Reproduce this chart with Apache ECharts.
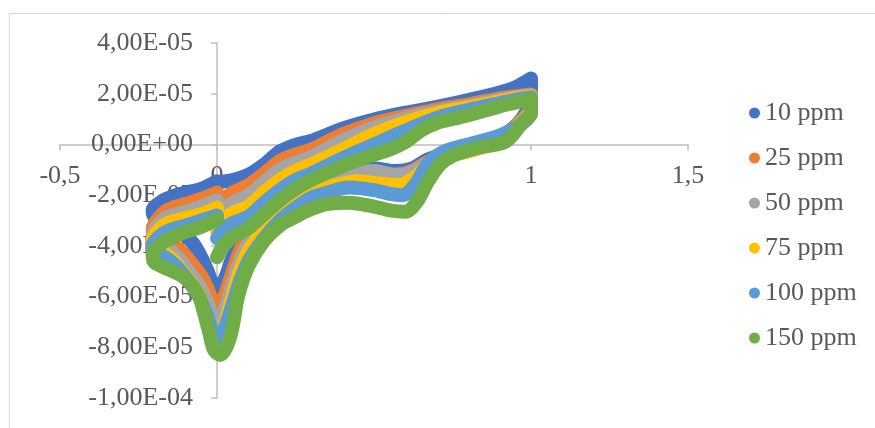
<!DOCTYPE html>
<html>
<head>
<meta charset="utf-8">
<script src="https://cdn.jsdelivr.net/npm/echarts@6/dist/echarts.min.js"></script>
<style>
  html, body { margin: 0; padding: 0; background: #fff; }
  #chart { width: 875px; height: 428px; }
</style>
</head>
<body>
<div id="chart"></div>
<script>
// Cyclic voltammograms: potential (V) vs current (A), one loop per concentration.
const seriesNames = ['10 ppm', '25 ppm', '50 ppm', '75 ppm', '100 ppm', '150 ppm'];
const seriesColors = ['#4472C4', '#ED7D31', '#A5A5A5', '#FFC000', '#5B9BD5', '#70AD47'];
const xTicks = [-0.5, 0, 0.5, 1, 1.5];
const yTicks = [-1e-4, -8e-5, -6e-5, -4e-5, -2e-5, 0, 2e-5, 4e-5];

const cv10 = [
  [0,-1.5e-5],[0.05,-1.4e-5],[0.1,-1.2e-5],[0.15,-0.8e-5],[0.2,-0.28e-5],[0.25,-0.02e-5],[0.3,0.14e-5],
  [0.4,0.62e-5],[0.5,0.98e-5],[0.6,1.25e-5],[0.7,1.48e-5],[0.8,1.75e-5],[0.9,2.05e-5],[0.95,2.25e-5],[1.0,2.6e-5],
  [1.0,1.9e-5],[0.97,1.0e-5],[0.91,0.35e-5],[0.82,-0.15e-5],[0.73,-0.35e-5],[0.67,-0.6e-5],[0.62,-0.95e-5],
  [0.57,-1.05e-5],[0.5,-0.95e-5],[0.42,-1.0e-5],[0.35,-1.2e-5],[0.3,-1.45e-5],[0.25,-1.8e-5],[0.2,-2.2e-5],
  [0.15,-2.7e-5],[0.1,-3.25e-5],[0.07,-3.9e-5],[0.045,-4.6e-5],[0.025,-5.3e-5],[0.005,-5.65e-5],
  [-0.015,-5.45e-5],[-0.03,-5.0e-5],[-0.05,-4.45e-5],[-0.076,-3.9e-5],[-0.11,-3.5e-5],[-0.15,-3.2e-5],[-0.2,-2.85e-5],
  [-0.205,-2.6e-5],[-0.17,-2.2e-5],[-0.13,-2.0e-5],[-0.1,-1.9e-5],[-0.05,-1.75e-5],[0,-1.45e-5]
];
const cv25 = [
  [0,-2.6e-5],[0.02,-2.2e-5],[0.05,-1.9e-5],[0.1,-1.6e-5],[0.15,-1.15e-5],[0.2,-0.65e-5],[0.25,-0.4e-5],[0.3,-0.2e-5],
  [0.4,0.4e-5],[0.5,0.83e-5],[0.6,1.12e-5],[0.7,1.38e-5],[0.8,1.58e-5],[0.9,1.82e-5],[0.95,1.9e-5],[1.0,1.97e-5],
  [1.0,1.5e-5],[0.97,0.95e-5],[0.91,0.3e-5],[0.82,-0.15e-5],[0.73,-0.4e-5],[0.67,-0.7e-5],[0.62,-1.05e-5],
  [0.57,-1.2e-5],[0.5,-1.1e-5],[0.42,-1.15e-5],[0.35,-1.4e-5],[0.3,-1.65e-5],[0.25,-2.0e-5],[0.2,-2.45e-5],
  [0.15,-3.0e-5],[0.1,-3.6e-5],[0.07,-4.3e-5],[0.045,-5.2e-5],[0.025,-5.95e-5],[0.005,-6.4e-5],
  [-0.015,-6.15e-5],[-0.03,-5.7e-5],[-0.05,-5.2e-5],[-0.08,-4.7e-5],[-0.115,-4.2e-5],[-0.15,-3.9e-5],[-0.2,-3.6e-5],
  [-0.205,-3.35e-5],[-0.17,-2.7e-5],[-0.13,-2.45e-5],[-0.1,-2.35e-5],[-0.05,-2.15e-5],[0,-1.9e-5]
];
const cv50 = [
  [0,-3.0e-5],[0.02,-2.6e-5],[0.05,-2.3e-5],[0.1,-2.0e-5],[0.15,-1.5e-5],[0.2,-1.0e-5],[0.25,-0.72e-5],[0.3,-0.5e-5],
  [0.4,0.15e-5],[0.5,0.66e-5],[0.6,1.02e-5],[0.7,1.3e-5],[0.8,1.52e-5],[0.9,1.76e-5],[0.95,1.86e-5],[1.0,1.93e-5],
  [1.0,1.4e-5],[0.97,0.9e-5],[0.91,0.25e-5],[0.82,-0.2e-5],[0.73,-0.45e-5],[0.67,-0.75e-5],[0.62,-1.1e-5],
  [0.57,-1.2e-5],[0.5,-1.05e-5],[0.42,-1.15e-5],[0.35,-1.45e-5],[0.3,-1.75e-5],[0.25,-2.15e-5],[0.2,-2.6e-5],
  [0.15,-3.2e-5],[0.1,-3.9e-5],[0.07,-4.7e-5],[0.045,-5.7e-5],[0.025,-6.5e-5],[0.005,-7.0e-5],
  [-0.015,-6.75e-5],[-0.03,-6.25e-5],[-0.055,-5.6e-5],[-0.09,-5.0e-5],[-0.125,-4.45e-5],[-0.16,-4.1e-5],[-0.2,-3.85e-5],
  [-0.205,-3.6e-5],[-0.17,-2.95e-5],[-0.13,-2.75e-5],[-0.1,-2.65e-5],[-0.05,-2.45e-5],[0,-2.2e-5]
];
const cv75 = [
  [0,-3.4e-5],[0.02,-3.0e-5],[0.05,-2.7e-5],[0.1,-2.45e-5],[0.15,-1.9e-5],[0.2,-1.4e-5],[0.25,-1.05e-5],[0.3,-0.8e-5],
  [0.4,-0.2e-5],[0.5,0.4e-5],[0.6,0.88e-5],[0.7,1.22e-5],[0.8,1.46e-5],[0.9,1.7e-5],[0.95,1.82e-5],[1.0,1.9e-5],
  [1.0,1.35e-5],[0.97,0.85e-5],[0.91,0.2e-5],[0.82,-0.2e-5],[0.73,-0.5e-5],[0.67,-0.85e-5],[0.63,-1.3e-5],
  [0.58,-1.6e-5],[0.52,-1.55e-5],[0.45,-1.45e-5],[0.38,-1.6e-5],[0.3,-1.95e-5],[0.25,-2.35e-5],[0.2,-2.8e-5],
  [0.15,-3.4e-5],[0.1,-4.2e-5],[0.07,-5.1e-5],[0.045,-6.2e-5],[0.025,-7.1e-5],[0.005,-7.7e-5],
  [-0.015,-7.4e-5],[-0.03,-6.8e-5],[-0.055,-6.0e-5],[-0.09,-5.35e-5],[-0.13,-4.7e-5],[-0.165,-4.3e-5],[-0.2,-4.05e-5],
  [-0.205,-3.8e-5],[-0.17,-3.2e-5],[-0.13,-3.0e-5],[-0.1,-2.9e-5],[-0.05,-2.75e-5],[0,-2.5e-5]
];
const cv100 = [
  [0,-3.7e-5],[0.02,-3.35e-5],[0.05,-3.1e-5],[0.1,-2.85e-5],[0.15,-2.3e-5],[0.2,-1.8e-5],[0.25,-1.4e-5],[0.3,-1.15e-5],
  [0.4,-0.55e-5],[0.5,0.0],[0.6,0.55e-5],[0.7,1.05e-5],[0.8,1.36e-5],[0.9,1.63e-5],[0.95,1.76e-5],[1.0,1.86e-5],
  [1.0,1.3e-5],[0.97,0.8e-5],[0.9,0.35e-5],[0.8,0.0],[0.72,-0.3e-5],[0.67,-0.8e-5],[0.63,-1.6e-5],
  [0.59,-2.0e-5],[0.55,-1.95e-5],[0.5,-1.8e-5],[0.42,-1.7e-5],[0.35,-1.9e-5],[0.3,-2.1e-5],[0.25,-2.5e-5],
  [0.2,-3.0e-5],[0.15,-3.7e-5],[0.1,-4.6e-5],[0.07,-5.5e-5],[0.045,-6.5e-5],[0.025,-7.2e-5],[0.005,-7.6e-5],
  [-0.015,-7.35e-5],[-0.03,-6.8e-5],[-0.055,-6.05e-5],[-0.09,-5.4e-5],[-0.13,-4.8e-5],[-0.165,-4.45e-5],[-0.2,-4.25e-5],
  [-0.205,-4.0e-5],[-0.17,-3.5e-5],[-0.13,-3.3e-5],[-0.1,-3.2e-5],[-0.05,-3.0e-5],[0,-2.8e-5]
];
const cv150 = [
  [0,-4.45e-5],[0.02,-4.0e-5],[0.05,-3.65e-5],[0.1,-3.3e-5],[0.15,-2.75e-5],[0.2,-2.2e-5],[0.25,-1.75e-5],[0.3,-1.4e-5],
  [0.4,-0.85e-5],[0.5,-0.4e-5],[0.55,-0.2e-5],[0.6,0.1e-5],[0.65,0.55e-5],[0.7,0.85e-5],[0.75,1.0e-5],[0.8,1.15e-5],
  [0.9,1.5e-5],[0.95,1.65e-5],[1.0,1.8e-5],
  [1.0,1.2e-5],[0.975,0.9e-5],[0.92,0.12e-5],[0.82,-0.16e-5],[0.75,-0.45e-5],[0.71,-0.8e-5],[0.67,-1.5e-5],[0.64,-2.2e-5],
  [0.6,-2.65e-5],[0.55,-2.6e-5],[0.5,-2.45e-5],[0.42,-2.3e-5],[0.35,-2.35e-5],[0.3,-2.55e-5],[0.25,-2.85e-5],
  [0.2,-3.2e-5],[0.15,-3.8e-5],[0.1,-4.8e-5],[0.067,-6.0e-5],[0.048,-7.3e-5],[0.03,-8.0e-5],[0.01,-8.3e-5],
  [-0.01,-8.1e-5],[-0.025,-7.4e-5],[-0.04,-6.7e-5],[-0.057,-6.0e-5],[-0.08,-5.55e-5],[-0.11,-5.2e-5],[-0.15,-4.95e-5],[-0.2,-4.65e-5],
  [-0.205,-4.35e-5],[-0.17,-3.85e-5],[-0.13,-3.6e-5],[-0.1,-3.45e-5],[-0.05,-3.25e-5],[0,-2.95e-5]
];
const loops = [cv10, cv25, cv50, cv75, cv100, cv150];

const FONT = '"Liberation Serif", "Times New Roman", serif';
const TEXT = '#595959';
const AXIS = '#BFBFBF';

// Plot box in pixels; the axes cross at (0, 0) inside it.
const GRID = { left: 60, top: 43, width: 628, height: 355 };
const X_ZERO_FROM_LEFT = GRID.width * (0 - xTicks[0]) / (xTicks[xTicks.length - 1] - xTicks[0]);
const Y_ZERO_FROM_BOTTOM = GRID.height * (0 - yTicks[0]) / (yTicks[yTicks.length - 1] - yTicks[0]);

function sciLabel(v) {
  const s = Number(v).toExponential(2);          // e.g. "4.00e-5"
  const m = s.match(/^(-?\d\.\d+)e([+-])(\d+)$/);
  if (!m) return s;
  const exp = m[3].length < 2 ? '0' + m[3] : m[3];
  return m[1].replace('.', ',') + 'E' + m[2] + exp;
}

const chart = echarts.init(document.getElementById('chart'), null, { renderer: 'canvas' });
chart.setOption({
  animation: false,
  backgroundColor: '#ffffff',
  color: seriesColors,
  graphic: [{
    type: 'rect',
    shape: { x: 9.5, y: 13.5, width: 900, height: 500 },
    style: { fill: 'none', stroke: '#D9D9D9', lineWidth: 1 },
    silent: true, z: -1
  }],
  grid: {
    left: GRID.left, top: GRID.top, width: GRID.width, height: GRID.height,
    containLabel: false, outerBoundsMode: 'none'
  },
  legend: {
    orient: 'vertical',
    left: 744,
    top: 95,
    icon: 'circle',
    itemWidth: 11,
    itemHeight: 11,
    itemGap: 19,
    data: seriesNames,
    textStyle: { fontFamily: FONT, fontSize: 26, color: TEXT, lineHeight: 26 }
  },
  xAxis: {
    type: 'value',
    position: 'bottom',
    offset: -Y_ZERO_FROM_BOTTOM,
    min: xTicks[0],
    max: xTicks[xTicks.length - 1],
    interval: 0.5,
    axisLine: { onZero: false, lineStyle: { color: AXIS, width: 1.5 } },
    axisTick: { show: true, inside: false, length: 6, lineStyle: { color: AXIS, width: 1.5 } },
    splitLine: { show: false },
    axisLabel: {
      margin: 19,
      fontFamily: FONT, fontSize: 26, color: TEXT,
      formatter: v => String(v).replace('.', ',')
    }
  },
  yAxis: {
    type: 'value',
    position: 'left',
    offset: -X_ZERO_FROM_LEFT,
    min: yTicks[0],
    max: yTicks[yTicks.length - 1],
    interval: 2e-5,
    axisLine: { show: true, onZero: false, lineStyle: { color: AXIS, width: 1.5 } },
    axisTick: { show: true, inside: false, length: 6, lineStyle: { color: AXIS, width: 1.5 } },
    splitLine: { show: false },
    axisLabel: {
      margin: 24,
      fontFamily: FONT, fontSize: 26, color: TEXT,
      formatter: sciLabel
    }
  },
  series: loops.map((d, i) => ({
    name: seriesNames[i],
    type: 'line',
    data: d,
    showSymbol: false,
    smooth: 0.3,
    lineStyle: { width: 14, color: seriesColors[i], cap: 'round', join: 'round' },
    itemStyle: { color: seriesColors[i] },
    emphasis: { disabled: true }
  }))
});
</script>
</body>
</html>
